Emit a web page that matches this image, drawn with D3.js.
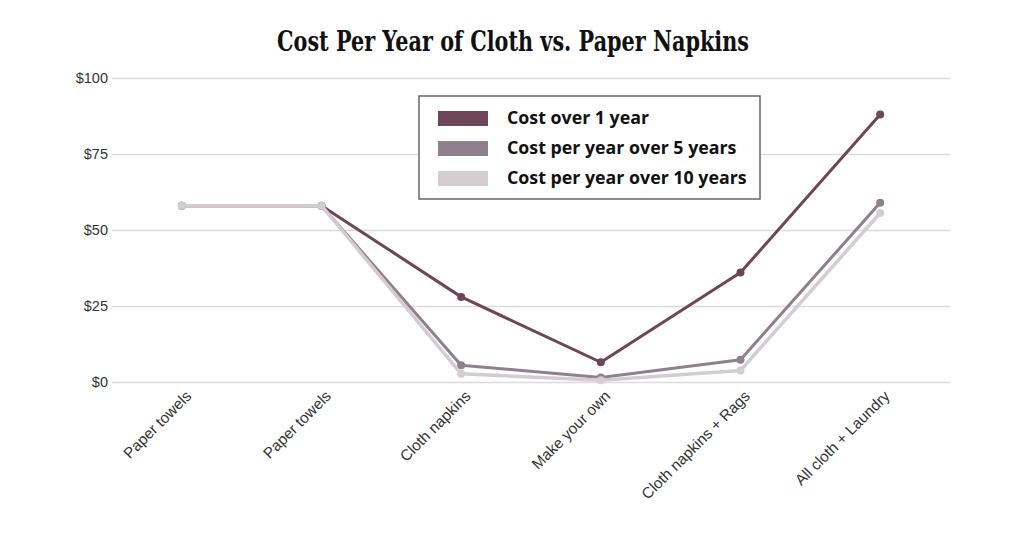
<!DOCTYPE html>
<html>
<head>
<meta charset="utf-8">
<script src="https://cdn.jsdelivr.net/npm/d3@7"></script>
<style>
  body { margin: 0; background: #fff; }
</style>
</head>
<body>
<div id="chart"></div>
<script>
var categories = ["Paper towels", "Paper towels ", "Cloth napkins", "Make your own", "Cloth napkins + Rags", "All cloth + Laundry"];
var oneYear = [58, 58, 28, 6.5, 36, 88];
var fiveYears = [58, 58, 5.5, 1.5, 7.3, 59];
var tenYears = [58, 58, 2.7, 0.6, 3.8, 55.6];
var seriesNames = ["Cost over 1 year", "Cost per year over 5 years", "Cost per year over 10 years"];
var yTicks = [0, 25, 50, 75, 100];

var colors = ["#6d4657", "#8f808c", "#d3cdd1"];
var allSeries = [oneYear, fiveYears, tenYears];

const width = 1024, height = 536;
const margin = { left: 112, right: 74, top: 78, bottom: 154 };

const svg = d3.select("#chart").append("svg")
  .attr("width", width)
  .attr("height", height);

// title
svg.append("text")
  .attr("x", 513)
  .attr("y", 51)
  .attr("text-anchor", "middle")
  .attr("font-family", "'DejaVu Serif', serif")
  .attr("font-weight", "bold")
  .attr("font-size", 27)
  .attr("textLength", 472)
  .attr("lengthAdjust", "spacingAndGlyphs")
  .attr("fill", "#111")
  .text("Cost Per Year of Cloth vs. Paper Napkins");

const x = d3.scalePoint()
  .domain(categories)
  .range([margin.left, width - margin.right])
  .padding(0.5);

const y = d3.scaleLinear()
  .domain([0, 100])
  .range([height - margin.bottom, margin.top]);

// gridlines + y labels
const yAxis = svg.append("g")
  .attr("transform", "translate(" + margin.left + ",0)")
  .call(d3.axisLeft(y)
    .tickValues(yTicks)
    .tickSize(-(width - margin.left - margin.right))
    .tickPadding(4)
    .tickFormat(function (d) { return "$" + d; }));
yAxis.select(".domain").remove();
yAxis.selectAll(".tick line")
  .attr("stroke", "#dcdcdc")
  .attr("stroke-width", 1.5);
yAxis.selectAll(".tick text")
  .attr("font-family", "'Liberation Sans', Arial, sans-serif")
  .attr("font-size", 14.5)
  .attr("fill", "#333");

// x labels
const xAxis = svg.append("g")
  .attr("transform", "translate(0," + (height - margin.bottom) + ")")
  .call(d3.axisBottom(x).tickSize(0).tickPadding(0));
xAxis.select(".domain").remove();
xAxis.selectAll(".tick text")
  .attr("font-family", "'Liberation Sans', Arial, sans-serif")
  .attr("font-size", 15.3)
  .attr("fill", "#333")
  .attr("text-anchor", "end")
  .attr("dy", 0)
  .attr("transform", "translate(10,15) rotate(-45)");

// lines and points
const line = d3.line()
  .x(function (d, i) { return x(categories[i]); })
  .y(function (d) { return y(d); });

allSeries.forEach(function (s, k) {
  svg.append("path")
    .datum(s)
    .attr("fill", "none")
    .attr("stroke", colors[k])
    .attr("stroke-width", k == 2 ? 3.5 : 3)
    .attr("stroke-linejoin", "round")
    .attr("d", line);
  svg.selectAll(".pt" + k)
    .data(s)
    .enter()
    .append("circle")
    .attr("class", "pt" + k)
    .attr("cx", function (d, i) { return x(categories[i]); })
    .attr("cy", function (d) { return y(d); })
    .attr("r", 4)
    .attr("fill", colors[k]);
});

// legend
const legend = svg.append("g").attr("transform", "translate(419,96)");
legend.append("rect")
  .attr("width", 341)
  .attr("height", 103)
  .attr("fill", "#fff")
  .attr("stroke", "#666")
  .attr("stroke-width", 1.5);
seriesNames.forEach(function (name, k) {
  legend.append("rect")
    .attr("x", 19)
    .attr("y", 15 + k * 30)
    .attr("width", 50)
    .attr("height", 15)
    .attr("fill", colors[k]);
  legend.append("text")
    .attr("x", 88)
    .attr("y", 28 + k * 30)
    .attr("font-family", "'Open Sans', sans-serif")
    .attr("font-weight", "bold")
    .attr("font-size", 17.8)
    .attr("fill", "#111")
    .text(name);
});
</script>
</body>
</html>
